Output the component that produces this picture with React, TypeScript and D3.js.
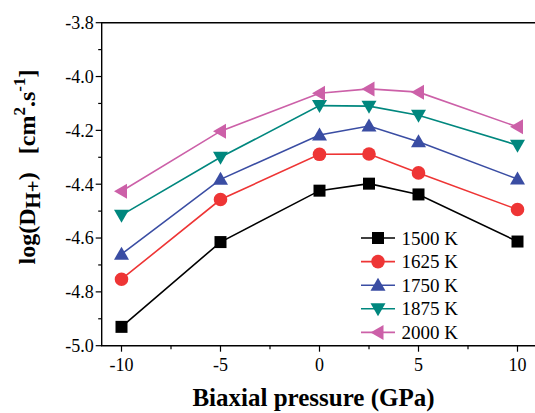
import React from "react";
import * as d3 from "d3";

const pressures = [-10, -5, 0, 2.5, 5, 10];
const seriesNames = ["1500 K", "1625 K", "1750 K", "1875 K", "2000 K"];
const v1500 = [-4.93, -4.615, -4.424, -4.398, -4.438, -4.613];
const v1625 = [-4.753, -4.457, -4.289, -4.288, -4.358, -4.494];
const v1750 = [-4.66, -4.382, -4.217, -4.184, -4.242, -4.381];
const v1875 = [-4.515, -4.30, -4.108, -4.11, -4.144, -4.255];
const v2000 = [-4.426, -4.203, -4.062, -4.046, -4.058, -4.187];
const seriesValues = [v1500, v1625, v1750, v1875, v2000];
const seriesColors = ["#000000", "#EE3535", "#3A4DA3", "#00877E", "#CC60A8"];
const seriesMarkers = ["square", "circle", "triUp", "triDown", "triLeft"];
const yMajorTicks = [-5.0, -4.8, -4.6, -4.4, -4.2, -4.0, -3.8];
const yMinorTicks = [-4.9, -4.7, -4.5, -4.3, -4.1, -3.9];
const xMajorTicks = [-10, -5, 0, 5, 10];
const xMinorTicks = [-7.5, -2.5, 2.5, 7.5];

const FONT = "'Liberation Serif', 'Times New Roman', Times, serif";

function markerPath(kind: string, cx: number, cy: number): string {
  const s = 6;
  switch (kind) {
    case "square":
      return `M${cx - s},${cy - s}h${2 * s}v${2 * s}h${-2 * s}Z`;
    case "circle":
      return `M${cx - 6.8},${cy}a6.8,6.8 0 1,0 13.6,0a6.8,6.8 0 1,0 -13.6,0Z`;
    case "triUp":
      return `M${cx},${cy - 7.5}L${cx + 7.5},${cy + 5.5}L${cx - 7.5},${cy + 5.5}Z`;
    case "triDown":
      return `M${cx},${cy + 7.5}L${cx + 7.5},${cy - 5.5}L${cx - 7.5},${cy - 5.5}Z`;
    case "triLeft":
      return `M${cx - 7.5},${cy}L${cx + 5.5},${cy - 7.5}L${cx + 5.5},${cy + 7.5}Z`;
    default:
      return "";
  }
}

export default function App() {
  const W = 535;
  const H = 413;
  const left = 101.7;
  const right = 537.3;
  const top = 22.7;
  const bottom = 345.7;
  const x = d3.scaleLinear().domain([-11, 11]).range([left, right]);
  const y = d3.scaleLinear().domain([-5.0, -3.8]).range([bottom, top]);
  const line = d3
    .line<[number, number]>()
    .x((d) => x(d[0]))
    .y((d) => y(d[1]));

  const legendX1 = 361;
  const legendX2 = 395;
  const legendY0 = 238;
  const legendDy = 23.6;

  return (
    <svg
      width={W}
      height={H}
      style={{ position: "absolute", left: 0, top: 0, background: "#fff" }}
      fontFamily={FONT}
    >
      <rect x={0} y={0} width={W} height={H} fill="#fff" />
      {/* frame */}
      <path
        d={`M${right},${top}H${left}V${bottom}H${right}`}
        fill="none"
        stroke="#000"
        strokeWidth={1.4}
      />
      {/* y ticks */}
      {yMajorTicks.map((t) => (
        <g key={"ym" + t}>
          <line x1={left - 6} x2={left} y1={y(t)} y2={y(t)} stroke="#000" strokeWidth={1.2} />
          <text x={left - 8} y={y(t)} dy="0.35em" textAnchor="end" fontSize={18}>
            {t.toFixed(1)}
          </text>
        </g>
      ))}
      {yMinorTicks.map((t) => (
        <line key={"yn" + t} x1={left - 3.5} x2={left} y1={y(t)} y2={y(t)} stroke="#000" strokeWidth={1.2} />
      ))}
      {/* x ticks */}
      {xMajorTicks.map((t) => (
        <g key={"xm" + t}>
          <line x1={x(t)} x2={x(t)} y1={bottom} y2={bottom + 6} stroke="#000" strokeWidth={1.2} />
          <text x={x(t)} y={370.5} textAnchor="middle" fontSize={18}>
            {String(t)}
          </text>
        </g>
      ))}
      {xMinorTicks.map((t) => (
        <line key={"xn" + t} x1={x(t)} x2={x(t)} y1={bottom} y2={bottom + 3.5} stroke="#000" strokeWidth={1.2} />
      ))}
      {/* series */}
      {seriesValues.map((vals, i) => {
        const pts = pressures.map((p, j) => [p, vals[j]] as [number, number]);
        return (
          <g key={seriesNames[i]}>
            <path d={line(pts) || ""} fill="none" stroke={seriesColors[i]} strokeWidth={1.6} />
            {pts.map((d, j) => (
              <path key={j} d={markerPath(seriesMarkers[i], x(d[0]), y(d[1]))} fill={seriesColors[i]} />
            ))}
          </g>
        );
      })}
      {/* legend */}
      {seriesNames.map((name, i) => {
        const ly = legendY0 + i * legendDy;
        return (
          <g key={"lg" + name}>
            <line x1={legendX1} x2={legendX2} y1={ly} y2={ly} stroke={seriesColors[i]} strokeWidth={1.6} />
            <path d={markerPath(seriesMarkers[i], (legendX1 + legendX2) / 2, ly)} fill={seriesColors[i]} />
            <text x={401.5} y={ly} dy="0.35em" fontSize={19}>
              {name}
            </text>
          </g>
        );
      })}
      {/* x title */}
      <text x={313.5} y={405.5} textAnchor="middle" fontSize={25} fontWeight="bold">
        Biaxial pressure (GPa)
      </text>
      {/* y title */}
      <text
        transform="translate(35,167) rotate(-90)"
        textAnchor="middle"
        fontSize={24}
        fontWeight="bold"
      >
        <tspan>log(D</tspan>
        <tspan fontSize={21} dy={5}>H+</tspan>
        <tspan dy={-5}>)</tspan>
        <tspan>{"\u00A0\u00A0\u00A0[cm"}</tspan>
        <tspan fontSize={17} dy={-10}>2</tspan>
        <tspan dy={10}>.s</tspan>
        <tspan fontSize={17} dy={-10}>-1</tspan>
        <tspan dy={10}>]</tspan>
      </text>
    </svg>
  );
}
